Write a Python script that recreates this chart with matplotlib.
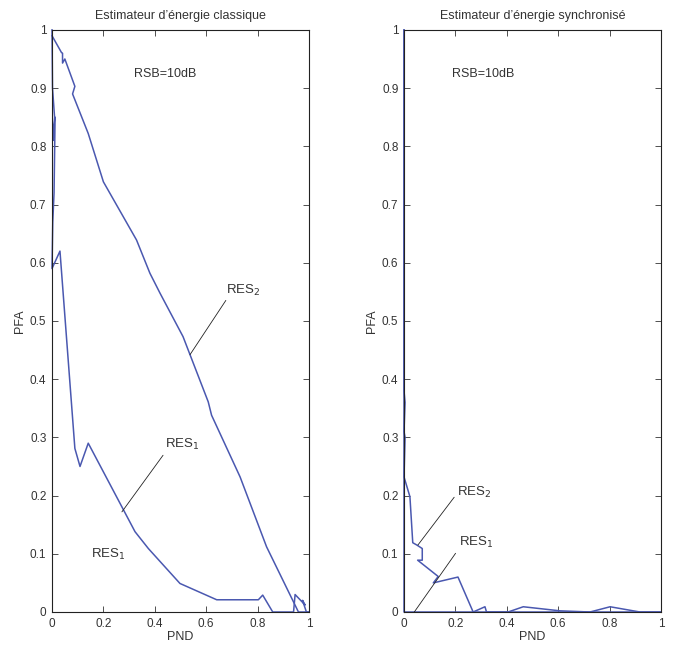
import matplotlib
matplotlib.use("Agg")
import matplotlib.pyplot as plt
from matplotlib.ticker import FuncFormatter

plt.rcParams['font.family'] = ['Liberation Sans', 'DejaVu Sans']

# Left panel: classic energy estimator
cl_res2_pnd = [0.0, 0.037, 0.041, 0.041, 0.05, 0.089, 0.08, 0.141, 0.2, 0.329, 0.381, 0.42,
               0.51, 0.608, 0.621, 0.732, 0.835, 0.959, 1.0]
cl_res2_pfa = [0.99, 0.961, 0.96, 0.943, 0.95, 0.903, 0.89, 0.822, 0.739, 0.639, 0.582, 0.548,
               0.473, 0.361, 0.338, 0.232, 0.112, 0.0, 0.0]
cl_res1_pnd = [0.0, 0.002, 0.01, 0.004, 0.012, 0.008, 0.003, 0.0, 0.031, 0.089, 0.109, 0.141,
               0.323, 0.375, 0.498, 0.641, 0.803, 0.82, 0.859, 0.94, 0.946, 0.985, 0.975, 0.99, 1.0]
cl_res1_pfa = [1.0, 0.9, 0.85, 0.81, 0.85, 0.72, 0.67, 0.59, 0.62, 0.281, 0.25, 0.29,
               0.138, 0.109, 0.049, 0.021, 0.021, 0.029, 0.0, 0.0, 0.03, 0.012, 0.02, 0.0, 0.0]

# Right panel: synchronised energy estimator
sy_res2_pnd = [0.0, 0.0, 0.004, 0.0, 0.004, 0.0, 0.023, 0.034, 0.05, 0.071, 0.071, 0.053, 0.133,
               0.114, 0.21, 0.269, 0.315, 0.321, 0.405, 0.464, 0.607, 0.724, 0.802, 0.918, 1.0]
sy_res2_pfa = [1.0, 0.38, 0.36, 0.31, 0.3, 0.232, 0.198, 0.119, 0.115, 0.109, 0.089, 0.089, 0.061,
               0.05, 0.06, 0.0, 0.009, 0.0, 0.0, 0.009, 0.002, 0.0, 0.009, 0.0, 0.0]
sy_res1_pnd = [0.0, 0.0, 0.0, 1.0]
sy_res1_pfa = [1.0, 0.15, 0.0, 0.0]

xticks = [0, 0.2, 0.4, 0.6, 0.8, 1]
yticks = [0, 0.1, 0.2, 0.3, 0.4, 0.5, 0.6, 0.7, 0.8, 0.9, 1]

line_color = '#4a58b0'
text_color = '#333333'

fig = plt.figure(figsize=(6.78, 6.57), dpi=100)
ax1 = fig.add_axes([0.0767, 0.0685, 0.379, 0.886])
ax2 = fig.add_axes([0.5959, 0.0685, 0.379, 0.886])

fmt = FuncFormatter(lambda v, p: '%g' % round(v, 2))

for ax, title in [(ax1, 'Estimateur d\u2019\u00e9nergie classique'),
                  (ax2, 'Estimateur d\u2019\u00e9nergie synchronis\u00e9')]:
    ax.set_xlim(0, 1)
    ax.set_ylim(0, 1)
    ax.set_xticks(xticks)
    ax.set_yticks(yticks)
    ax.xaxis.set_major_formatter(fmt)
    ax.yaxis.set_major_formatter(fmt)
    ax.tick_params(direction='in', top=True, right=True, labelsize=8.5,
                   colors=text_color, length=4, width=0.6, pad=4)
    for s in ax.spines.values():
        s.set_linewidth(0.8)
        s.set_color('#222222')
    ax.set_title(title, fontsize=9, color=text_color, pad=8)
    ax.set_xlabel('PND', fontsize=9, color=text_color, labelpad=1)
    ax.set_ylabel('PFA', fontsize=9, color=text_color, labelpad=3)

ax1.text(0.32, 0.925, 'RSB=10dB', fontsize=9, color=text_color, va='center')
ax2.text(0.187, 0.925, 'RSB=10dB', fontsize=9, color=text_color, va='center')

ax1.plot(cl_res2_pnd, cl_res2_pfa, color=line_color, lw=1.1, clip_on=False)
ax1.plot(cl_res1_pnd, cl_res1_pfa, color=line_color, lw=1.1, clip_on=False)
ax2.plot(sy_res2_pnd, sy_res2_pfa, color=line_color, lw=1.1, clip_on=False)
ax2.plot(sy_res1_pnd, sy_res1_pfa, color=line_color, lw=1.1, clip_on=False)

# annotations left
ax1.annotate('RES$_2$', xy=(0.537, 0.442), xytext=(0.677, 0.553), fontsize=9.5,
             color=text_color, va='center',
             arrowprops=dict(arrowstyle='-', color='#222222', lw=0.6, shrinkA=0, shrinkB=0,
                             relpos=(0.05, 0.0)))
ax1.annotate('RES$_1$', xy=(0.272, 0.172), xytext=(0.44, 0.287), fontsize=9.5,
             color=text_color, va='center',
             arrowprops=dict(arrowstyle='-', color='#222222', lw=0.6, shrinkA=0, shrinkB=0,
                             relpos=(0.0, 0.0)))
ax1.text(0.152, 0.098, 'RES$_1$', fontsize=9.5, color=text_color, va='center')

# annotations right
ax2.annotate('RES$_2$', xy=(0.054, 0.115), xytext=(0.206, 0.206), fontsize=9.5,
             color=text_color, va='center',
             arrowprops=dict(arrowstyle='-', color='#222222', lw=0.6, shrinkA=0, shrinkB=0,
                             relpos=(0.0, 0.4)))
ax2.annotate('RES$_1$', xy=(0.04, 0.0), xytext=(0.214, 0.119), fontsize=9.5,
             color=text_color, va='center',
             arrowprops=dict(arrowstyle='-', color='#222222', lw=0.6, shrinkA=0, shrinkB=0,
                             relpos=(-0.1, -0.2)))

fig.savefig('out.png', dpi=100, facecolor='white')
